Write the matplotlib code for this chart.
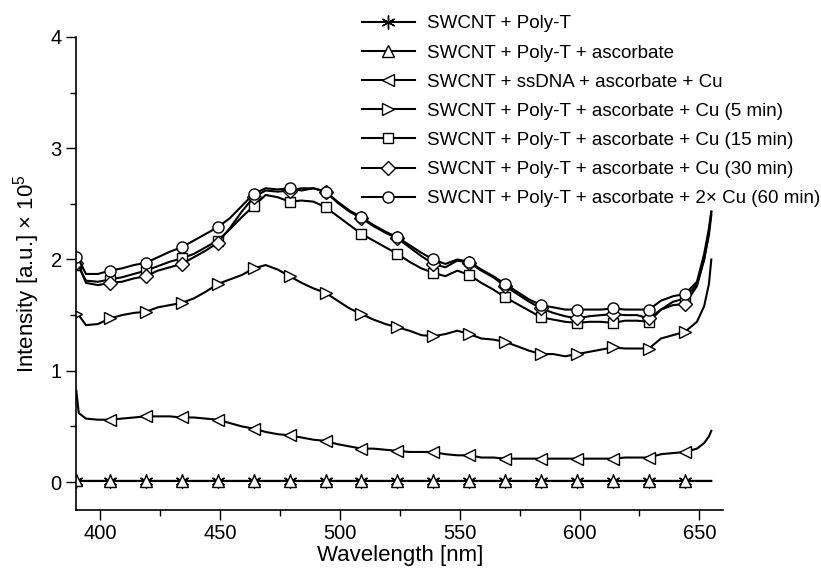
import matplotlib
matplotlib.use("Agg")
import matplotlib.pyplot as plt
from matplotlib.ticker import MultipleLocator

plt.rcParams['font.family'] = ['Liberation Sans', 'DejaVu Sans']
plt.rcParams['mathtext.default'] = 'regular'

# wavelength grid (nm)
wavelength = [390, 391, 394, 399, 404, 409, 414, 419, 424, 429, 434, 439, 444, 449,
              454, 459, 464, 469, 474, 479, 484, 489, 494, 499, 504, 509, 514, 519,
              524, 529, 534, 539, 544, 549, 554, 559, 564, 569, 574, 579, 584, 589,
              594, 599, 604, 609, 614, 619, 624, 629, 634, 639, 644, 649, 652, 654, 655]
marker_wl = [390, 404, 419, 434, 449, 464, 479, 494, 509, 524, 539, 554, 569, 584,
             599, 614, 629, 644]

# intensities in units of 1e5
poly_t = [0.01, 0.01, 0.01, 0.01, 0.01, 0.01, 0.01, 0.01, 0.01, 0.01, 0.01, 0.01,
          0.01, 0.01, 0.01, 0.01, 0.01, 0.01, 0.01, 0.01, 0.01, 0.01, 0.01, 0.01,
          0.01, 0.01, 0.01, 0.01, 0.01, 0.01, 0.01, 0.01, 0.01, 0.01, 0.01, 0.01,
          0.01, 0.01, 0.01, 0.01, 0.01, 0.01, 0.01, 0.01, 0.01, 0.01, 0.01, 0.01,
          0.01, 0.01, 0.01, 0.01, 0.01, 0.01, 0.01, 0.01, 0.01]
poly_t_asc = [0.02, 0.01, 0.01, 0.01, 0.01, 0.01, 0.01, 0.01, 0.01, 0.01, 0.01, 0.01,
              0.01, 0.01, 0.01, 0.01, 0.01, 0.01, 0.01, 0.01, 0.01, 0.01, 0.01, 0.01,
              0.01, 0.01, 0.01, 0.01, 0.01, 0.01, 0.01, 0.01, 0.01, 0.01, 0.01, 0.01,
              0.01, 0.01, 0.01, 0.01, 0.01, 0.01, 0.01, 0.01, 0.01, 0.01, 0.01, 0.01,
              0.01, 0.01, 0.01, 0.01, 0.01, 0.01, 0.01, 0.01, 0.01]
ssdna_cu = [0.82, 0.62, 0.57, 0.56, 0.56, 0.57, 0.58, 0.59, 0.59, 0.59, 0.58, 0.58,
            0.57, 0.56, 0.53, 0.50, 0.48, 0.45, 0.43, 0.42, 0.40, 0.38, 0.37, 0.34,
            0.32, 0.30, 0.30, 0.29, 0.28, 0.27, 0.27, 0.27, 0.25, 0.24, 0.24, 0.22,
            0.22, 0.21, 0.21, 0.21, 0.21, 0.21, 0.21, 0.21, 0.21, 0.21, 0.21, 0.22,
            0.22, 0.22, 0.25, 0.26, 0.27, 0.30, 0.35, 0.41, 0.46]
cu_5min = [1.51, 1.50, 1.41, 1.42, 1.47, 1.50, 1.52, 1.53, 1.57, 1.59, 1.61, 1.65,
           1.71, 1.78, 1.82, 1.86, 1.92, 1.95, 1.91, 1.85, 1.79, 1.74, 1.70, 1.63,
           1.56, 1.51, 1.46, 1.42, 1.39, 1.36, 1.32, 1.31, 1.33, 1.36, 1.33, 1.29,
           1.28, 1.26, 1.22, 1.18, 1.15, 1.15, 1.13, 1.15, 1.17, 1.19, 1.21, 1.20,
           1.20, 1.20, 1.29, 1.32, 1.35, 1.44, 1.58, 1.78, 2.00]
cu_15min = [1.95, 1.93, 1.81, 1.80, 1.82, 1.84, 1.87, 1.90, 1.94, 1.98, 2.01, 2.05,
            2.11, 2.17, 2.27, 2.38, 2.48, 2.58, 2.56, 2.52, 2.53, 2.52, 2.47, 2.39,
            2.31, 2.23, 2.17, 2.11, 2.05, 1.98, 1.92, 1.88, 1.85, 1.90, 1.86, 1.79,
            1.73, 1.66, 1.60, 1.54, 1.48, 1.46, 1.44, 1.43, 1.44, 1.44, 1.43, 1.45,
            1.45, 1.44, 1.55, 1.62, 1.65, 1.78, 2.00, 2.22, 2.40]
cu_30min = [1.97, 1.95, 1.79, 1.77, 1.79, 1.80, 1.83, 1.85, 1.90, 1.93, 1.96, 2.02,
            2.08, 2.15, 2.28, 2.43, 2.56, 2.62, 2.61, 2.62, 2.64, 2.64, 2.61, 2.51,
            2.43, 2.37, 2.30, 2.24, 2.19, 2.11, 2.03, 1.96, 1.93, 1.99, 1.97, 1.90,
            1.84, 1.76, 1.69, 1.62, 1.56, 1.52, 1.49, 1.47, 1.49, 1.50, 1.51, 1.50,
            1.50, 1.47, 1.55, 1.59, 1.60, 1.76, 2.00, 2.25, 2.43]
cu2_60min = [2.02, 2.00, 1.87, 1.87, 1.90, 1.92, 1.95, 1.97, 2.02, 2.07, 2.11, 2.17,
             2.23, 2.29, 2.37, 2.48, 2.59, 2.64, 2.63, 2.64, 2.62, 2.64, 2.61, 2.52,
             2.44, 2.38, 2.31, 2.25, 2.20, 2.13, 2.06, 2.00, 1.96, 2.00, 1.98, 1.91,
             1.85, 1.78, 1.71, 1.64, 1.59, 1.57, 1.55, 1.55, 1.55, 1.55, 1.56, 1.55,
             1.55, 1.55, 1.63, 1.67, 1.69, 1.80, 2.05, 2.28, 2.43]

labels = ["SWCNT + Poly-T",
          "SWCNT + Poly-T + ascorbate",
          "SWCNT + ssDNA + ascorbate + Cu",
          "SWCNT + Poly-T + ascorbate + Cu (5 min)",
          "SWCNT + Poly-T + ascorbate + Cu (15 min)",
          "SWCNT + Poly-T + ascorbate + Cu (30 min)",
          "SWCNT + Poly-T + ascorbate + 2\u00d7 Cu (60 min)"]
series = [poly_t, poly_t_asc, ssdna_cu, cu_5min, cu_15min, cu_30min, cu2_60min]
markers = [(6, 2, 0), '^', '<', '>', 's', 'D', 'o']
msizes = [10, 9, 9, 9, 7, 7, 8]

marker_idx = [wavelength.index(w) for w in marker_wl]

fig = plt.figure(figsize=(8.21, 5.69), dpi=100)
ax = fig.add_axes([0.093, 0.104, 0.788, 0.831])

for y, lab, m, ms in zip(series, labels, markers, msizes):
    idx = marker_idx[1:] if m == '<' else marker_idx
    ax.plot(wavelength, y, color='black', lw=1.5, marker=m, ms=ms,
            mfc='white', mec='black', mew=1.0, markevery=idx, label=lab)

ax.set_xlim(390, 660)
ax.set_ylim(-0.25, 4)
ax.xaxis.set_major_locator(MultipleLocator(50))
ax.xaxis.set_minor_locator(MultipleLocator(25))
ax.yaxis.set_major_locator(MultipleLocator(1))
ax.yaxis.set_minor_locator(MultipleLocator(0.5))
ax.tick_params(which='major', direction='out', length=7, width=1.0, labelsize=14.5)
ax.tick_params(which='minor', direction='out', length=4, width=1.0)
for s in ['top', 'right']:
    ax.spines[s].set_visible(False)
for s in ['left', 'bottom']:
    ax.spines[s].set_linewidth(1.2)

ax.set_xlabel("Wavelength [nm]", fontsize=16, labelpad=1)
ax.set_ylabel("Intensity [a.u.] \u00d7 10$^{5}$", fontsize=16, labelpad=6)

ax.legend(loc='upper left', bbox_to_anchor=(0.441, 0.973), bbox_transform=fig.transFigure,
          frameon=False, fontsize=13.5, handlelength=2.8, handletextpad=0.65,
          labelspacing=0.64, borderpad=0, borderaxespad=0)

fig.savefig("out.png", dpi=100)
